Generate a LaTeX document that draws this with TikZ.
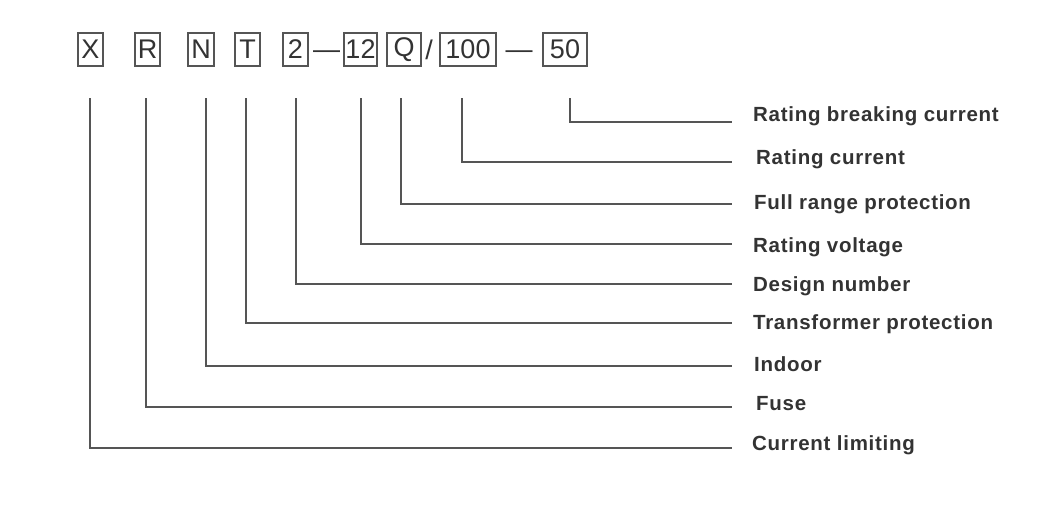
\documentclass[tikz,border=0pt]{standalone}
\usepackage{fontspec}
\setmainfont{Liberation Sans}
\newfontfamily\labfont[LetterSpace=3.5]{Liberation Sans}
\definecolor{ink}{HTML}{333333}
\definecolor{linec}{HTML}{555555}
\tikzset{
  x=1pt,y=-1pt,
  codebox/.style={draw=linec,line width=1.3pt,inner sep=0pt,minimum height=33pt,text=ink,font=\fontsize{27}{27}\selectfont},
  codetxt/.style={inner sep=0pt,text=ink,font=\fontsize{27}{27}\selectfont},
  lab/.style={anchor=base west,inner sep=0pt,text=ink,font=\labfont\bfseries\fontsize{20.5}{20.5}\selectfont},
  conn/.style={draw=linec,line width=1.3pt},
}
\begin{document}
\begin{tikzpicture}
\useasboundingbox[fill=white] (0,0) rectangle (1060,507);
% code boxes
\node[codebox,minimum width=25pt] (bX) at (90.5,49.5) {X};
\node[codebox,minimum width=25pt] (bR) at (147.5,49.5) {R};
\node[codebox,minimum width=26pt] (bN) at (201,49.5) {N};
\node[codebox,minimum width=25pt] (bT) at (247.5,49.5) {T};
\node[codebox,minimum width=25pt] (b2) at (295.5,49.5) {2};
\node[codetxt] (d1) at (326.5,55) {—};
\node[codebox,minimum width=33pt] (b12) at (360.5,49.5) {12};
\node[codebox,minimum width=34pt] (bQ) at (404,49.5) {Q};
\node[codetxt] (sl) at (429,49.5) {/};
\node[codebox,minimum width=56pt] (b100) at (468,49.5) {100};
\node[codetxt] (d2) at (519,55) {—};
\node[codebox,minimum width=44pt] (b50) at (565,49.5) {50};
% labels
\node[lab] (l50) at (753,121) {Rating breaking current};
\node[lab] (l100) at (756,164) {Rating current};
\node[lab] (lQ) at (754,209) {Full range protection};
\node[lab] (l12) at (753,252) {Rating voltage};
\node[lab] (l2) at (753,291) {Design number};
\node[lab] (lT) at (753,329) {Transformer protection};
\node[lab] (lN) at (754,371) {Indoor};
\node[lab] (lR) at (756,410) {Fuse};
\node[lab] (lX) at (752,450) {Current limiting};
% connector ends
\coordinate (t50) at (570,98);  \coordinate (e50) at (732,122);
\coordinate (t100) at (462,98); \coordinate (e100) at (732,162);
\coordinate (tQ) at (401,98);   \coordinate (eQ) at (732,204);
\coordinate (t12) at (361,98);  \coordinate (e12) at (732,244);
\coordinate (t2) at (296,98);   \coordinate (e2) at (732,284);
\coordinate (tT) at (246,98);   \coordinate (eT) at (732,323);
\coordinate (tN) at (206,98);   \coordinate (eN) at (732,366);
\coordinate (tR) at (146,98);   \coordinate (eR) at (732,407);
\coordinate (tX) at (90,98);    \coordinate (eX) at (732,448);
\foreach \k in {50,100,Q,12,2,T,N,R,X}{
  \draw[conn] (t\k) |- (e\k);
}
\end{tikzpicture}
\end{document}
